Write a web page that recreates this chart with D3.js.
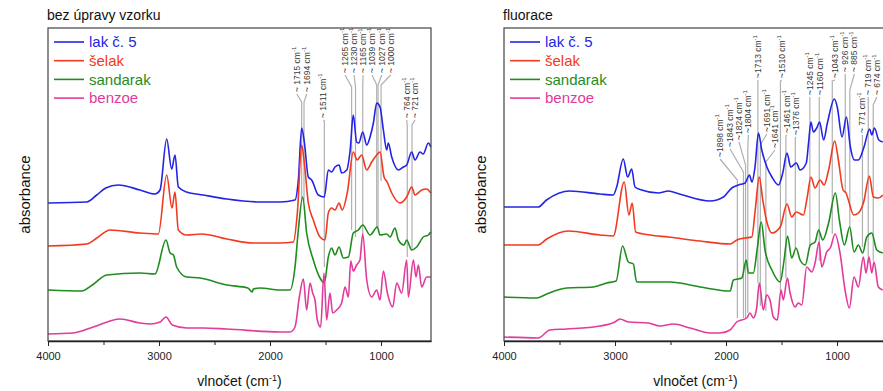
<!DOCTYPE html>
<html>
<head>
<meta charset="utf-8">
<script src="https://cdn.jsdelivr.net/npm/d3@7"></script>
<style>
  body { margin: 0; background: #fff; }
  svg { display: block; font-family: Arial, "Liberation Sans", sans-serif; }
</style>
</head>
<body>
<svg id="chart" width="883" height="391"></svg>
<script>
// legend / series
const seriesNames = ['lak č. 5', 'šelak', 'sandarak', 'benzoe'];
const seriesColors = ['#2424e6', '#f23a20', '#1e8c1e', '#e23b9b'];

// wavenumber ticks
const majorTicks = [4000, 3000, 2000, 1000];
const minorTicks = [3500, 2500, 1500];

// ---- panel 1: bez úpravy vzorku  ([wavenumber cm-1, absorbance a.u. incl. offset])
const bezLak = [[4000,13.8],[3651,13.9],[3561,14.6],[3480,15.3],[3367,15.6],[3171,15.1],[3036,14.7],[2991,15.1],[2931,20.2],[2886,17.2],[2856,18.6],[2826,15.4],[2751,14.9],[2601,14.6],[2390,14.2],[2090,13.9],[1910,13.9],[1775,14.1],[1745,16.1],[1715,21.3],[1691,19.9],[1655,16.4],[1625,16.1],[1565,14.6],[1511,14.4],[1475,17.1],[1445,16.9],[1415,17.4],[1378,17.6],[1355,16.8],[1309,17.1],[1279,19.0],[1250,22.6],[1220,19.9],[1200,19.8],[1165,20.9],[1129,19.6],[1099,20.4],[1069,21.8],[1039,23.8],[1009,23.4],[979,21.1],[949,19.1],[935,19.8],[904,18.4],[844,17.1],[799,17.4],[769,17.6],[724,18.9],[694,18.1],[649,18.9],[620,18.7],[574,19.8],[552,19.4]];
const bezSelak = [[4000,9.5],[3651,9.7],[3560,10.3],[3441,11.1],[3171,10.8],[3006,10.7],[2931,16.6],[2883,13.3],[2856,14.9],[2826,11.1],[2751,10.6],[2616,10.7],[2390,10.2],[2150,9.8],[1910,9.8],[1790,9.9],[1754,12.8],[1715,19.6],[1691,17.8],[1655,13.8],[1610,12.1],[1550,10.4],[1505,10.1],[1475,12.8],[1445,13.3],[1415,13.1],[1378,13.8],[1350,13.1],[1303,14.9],[1250,18.9],[1215,18.1],[1175,18.6],[1129,17.1],[1084,17.9],[1039,18.6],[1009,18.9],[973,16.4],[945,15.9],[904,14.8],[829,13.8],[769,14.4],[724,15.4],[694,14.6],[634,15.1],[590,15.2],[552,14.8]];
const bezSandarak = [[4000,5.1],[3696,5.0],[3600,5.6],[3471,6.6],[3171,6.8],[3036,6.7],[2937,10.1],[2900,8.8],[2870,8.6],[2841,7.4],[2751,6.4],[2631,6.3],[2390,5.6],[2200,5.3],[2160,4.9],[2150,5.2],[2090,5.3],[1910,5.1],[1820,5.1],[1775,7.4],[1745,11.1],[1706,14.4],[1670,10.8],[1610,8.1],[1550,6.3],[1511,5.8],[1475,8.4],[1445,9.3],[1415,8.6],[1378,9.4],[1340,8.3],[1294,8.4],[1250,10.8],[1205,11.1],[1165,11.6],[1099,10.6],[1033,11.4],[1010,10.6],[949,10.7],[919,10.4],[874,11.3],[844,10.1],[793,9.6],[769,10.1],[724,9.1],[679,9.4],[619,10.4],[574,10.6],[552,10.9]];
const bezBenzoe = [[4000,0.7],[3771,0.8],[3592,1.4],[3351,2.2],[3171,1.8],[3081,1.7],[2990,1.9],[2937,2.4],[2880,1.6],[2751,1.3],[2601,1.3],[2390,1.2],[1910,0.9],[1820,0.9],[1775,1.4],[1736,4.4],[1700,6.2],[1670,3.1],[1640,5.8],[1616,4.8],[1595,4.1],[1574,2.1],[1544,1.4],[1514,6.8],[1490,2.1],[1460,4.8],[1436,2.8],[1400,3.1],[1355,3.8],[1324,5.4],[1294,4.4],[1273,8.0],[1250,7.0],[1220,7.6],[1190,8.1],[1165,10.7],[1129,6.1],[1084,4.4],[1039,5.1],[1009,4.1],[979,7.0],[943,4.8],[895,3.4],[859,5.8],[814,4.8],[769,8.1],[754,4.4],[709,8.1],[685,6.4],[664,7.6],[634,5.4],[589,6.4],[552,6.4]];

// peak marks panel 1
const bezPeaks = [1715, 1694, 1511, 1265, 1230, 1165, 1039, 1027, 1000, 764, 721];
const bezPeakLabels = ['~ 1715', '~ 1694', '~ 1511', '~ 1265', '~ 1230', '~ 1165', '~ 1039', '~ 1027', '~ 1000', '~ 764', '~ 721'];
const bezLabelAt = [1759, 1669, 1520, 1324, 1243, 1162, 1081, 994, 913, 769, 694];
const bezLabelBase = [24.9, 24.9, 22.3, 26.8, 26.8, 26.8, 26.8, 26.8, 26.8, 22.3, 22.3];
const bezKink = [23.9, 23.9, 22.0, 25.4, 25.4, 25.4, 25.6, 25.6, 25.6, 21.6, 21.6];
const bezLineEnd = [14, 14, 7.4, 11.1, 10.4, 10.7, 11.4, 11.4, 16, 8.4, 9.1];

// ---- panel 2: fluorace
const fluLak = [[4000,13.4],[3693,13.4],[3617,14.1],[3407,15.0],[3136,14.7],[3016,14.6],[2985,15.4],[2926,18.2],[2886,16.4],[2850,17.2],[2820,15.4],[2760,15.1],[2610,14.8],[2520,15.0],[2420,14.7],[2143,14.0],[2023,14.4],[1948,15.3],[1888,15.6],[1828,15.8],[1789,16.6],[1767,15.9],[1739,17.4],[1708,20.8],[1678,19.1],[1632,17.4],[1587,16.4],[1527,15.6],[1489,16.8],[1451,18.8],[1417,17.4],[1367,17.8],[1333,17.1],[1277,17.8],[1256,19.9],[1235,21.9],[1214,20.9],[1183,21.3],[1157,21.9],[1121,20.1],[1087,21.8],[1024,24.2],[998,23.4],[955,20.4],[916,22.4],[880,19.4],[844,18.1],[808,18.1],[760,19.3],[706,21.2],[687,20.6],[663,21.3],[624,20.1],[588,19.9]];
const fluSelak = [[4000,9.6],[3693,9.6],[3615,10.2],[3422,11.0],[3136,10.6],[3016,10.5],[2917,15.9],[2875,12.6],[2845,13.8],[2814,10.9],[2685,10.6],[2520,10.4],[2234,10.0],[1963,9.7],[1903,10.1],[1828,10.3],[1768,10.4],[1737,13.1],[1701,16.4],[1669,14.1],[1632,11.9],[1587,10.8],[1512,11.4],[1451,13.7],[1408,12.4],[1367,12.9],[1303,12.6],[1270,14.3],[1235,16.4],[1198,15.3],[1153,16.1],[1117,15.6],[1076,17.1],[1021,20.0],[988,18.1],[946,15.1],[919,14.8],[898,14.1],[850,12.6],[808,12.8],[760,13.9],[709,16.5],[673,14.4],[628,14.3],[588,14.6]];
const fluSandarak = [[4000,4.4],[3708,4.3],[3615,4.7],[3437,5.3],[3195,5.4],[3076,5.8],[2990,6.0],[2932,9.5],[2880,7.9],[2835,7.7],[2805,5.9],[2685,5.9],[2505,5.9],[2234,5.4],[1963,5.0],[1933,6.1],[1858,6.3],[1818,8.1],[1799,6.8],[1754,6.8],[1717,9.4],[1683,11.9],[1649,9.1],[1587,7.1],[1512,5.9],[1477,8.1],[1446,10.5],[1408,8.3],[1369,9.3],[1333,8.1],[1286,7.6],[1241,9.6],[1198,9.9],[1166,11.1],[1129,10.1],[1076,11.8],[1015,14.8],[979,12.1],[934,9.6],[886,11.4],[847,8.9],[808,9.6],[769,8.8],[732,10.4],[687,10.8],[642,9.1],[588,8.8]];
const fluBenzoe = [[4000,0.4],[3693,0.3],[3586,1.1],[3435,1.2],[3136,1.5],[3001,1.9],[2956,2.2],[2880,1.9],[2700,1.8],[2595,1.5],[2475,1.7],[2324,1.3],[2143,0.8],[2054,0.8],[1964,1.1],[1904,1.9],[1814,2.3],[1784,2.8],[1754,2.3],[1724,3.3],[1700,5.8],[1664,3.1],[1634,4.6],[1604,4.1],[1574,2.4],[1538,2.1],[1505,5.1],[1484,4.1],[1448,6.3],[1423,4.8],[1378,3.4],[1349,3.8],[1318,3.6],[1273,7.4],[1228,6.9],[1198,7.8],[1162,9.9],[1138,7.4],[1093,8.9],[1057,9.4],[1018,10.7],[973,8.8],[928,5.1],[889,3.3],[847,6.4],[808,5.4],[763,8.4],[739,6.8],[712,8.4],[687,6.8],[667,7.9],[628,5.4],[588,5.1]];

// peak marks panel 2
const fluPeaks = [1898, 1843, 1824, 1804, 1713, 1691, 1641, 1510, 1461, 1376, 1245, 1160, 1043, 926, 885, 771, 719, 674];
const fluPeakLabels = ['~1898', '~1843', '~1824', '~1804', '~1713', '~1691', '~1641', '~1510', '~1461', '~1376', '~1245', '~1160', '~1043', '~ 926', '~ 885', '~ 771', '~ 719', '~ 674'];
const fluLabelAt = [2054, 1964, 1883, 1799, 1709, 1633, 1559, 1498, 1453, 1369, 1243, 1153, 1018, 928, 844, 777, 723, 642];
const fluLabelBase = [18.4, 19.4, 20.1, 20.8, 26.3, 20.9, 19.3, 26.3, 20.8, 20.6, 24.6, 24.6, 26.3, 26.9, 26.9, 20.8, 24.6, 24.6];
const fluKink = [16.1, 16.9, 17.6, 19.1, 26.0, 19.6, 17.9, 26.0, 20.5, 20.3, 24.3, 24.3, 26.0, 26.6, 25.1, 20.5, 24.3, 23.6];
const fluLineEnd = [2.3, 2.3, 2.3, 2.8, 5.8, 3.5, 3.0, 5.0, 6.3, 9.3, 9.6, 8.0, 10.7, 14.8, 11.4, 9.4, 7.8, 8.0];

const plotTop = 28, plotBottom = 341, plotWidth = 383;

const panels = [
  { title: 'bez úpravy vzorku', x0: 48, series: [bezLak, bezSelak, bezSandarak, bezBenzoe],
    peaks: bezPeaks, labels: bezPeakLabels, labelAt: bezLabelAt, labelBase: bezLabelBase, kink: bezKink, lineEnd: bezLineEnd },
  { title: 'fluorace', x0: 504, series: [fluLak, fluSelak, fluSandarak, fluBenzoe],
    peaks: fluPeaks, labels: fluPeakLabels, labelAt: fluLabelAt, labelBase: fluLabelBase, kink: fluKink, lineEnd: fluLineEnd }
];

const svg = d3.select('#chart');

const y = d3.scaleLinear().domain([0, 31.3]).range([plotBottom, plotTop]);

panels.forEach(p => {
  const x = d3.scaleLinear().domain([4000, 550]).range([p.x0, p.x0 + plotWidth]);
  const g = svg.append('g');

  // title
  g.append('text')
    .attr('x', p.x0 - 1).attr('y', 20)
    .style('font-size', '14px').attr('fill', '#111')
    .text(p.title);

  // peak lines (under the spectra)
  const marks = g.append('g').attr('class', 'marks');
  p.peaks.forEach((wn, i) => {
    const lx = x(p.labelAt[i]);
    const ly = y(p.labelBase[i]) + 2;
    const px = x(wn);
    const pts = [[lx, ly], [px, y(p.kink[i])], [px, y(p.lineEnd[i])]];
    marks.append('path')
      .attr('d', d3.line()(pts))
      .attr('fill', 'none')
      .attr('stroke', '#b0b0b0')
      .attr('stroke-width', 1.2);
  });

  // spectra
  const line = d3.line()
    .x(d => x(d[0]))
    .y(d => y(d[1]))
    .curve(d3.curveMonotoneX);

  p.series.forEach((s, i) => {
    g.append('path')
      .datum(s)
      .attr('d', line)
      .attr('fill', 'none')
      .attr('stroke', seriesColors[i])
      .attr('stroke-width', 1.6)
      .attr('stroke-linejoin', 'round');
  });

  // peak labels, rotated
  p.peaks.forEach((wn, i) => {
    const lx = x(p.labelAt[i]);
    const ly = y(p.labelBase[i]);
    const t = g.append('text')
      .attr('transform', `translate(${lx},${ly}) rotate(-90)`)
      .attr('dominant-baseline', 'central')
      .style('font-size', '8.5px')
      .attr('fill', '#3a3a3a');
    t.append('tspan').text(p.labels[i] + ' cm');
    t.append('tspan').attr('dy', -3).style('font-size', '6px').text('-1');
  });

  // frame
  g.append('rect')
    .attr('x', p.x0).attr('y', plotTop)
    .attr('width', plotWidth).attr('height', plotBottom - plotTop)
    .attr('fill', 'none').attr('stroke', '#444').attr('stroke-width', 1.2);

  // x axis
  const ax = g.append('g')
    .attr('transform', `translate(0,${plotBottom})`)
    .call(d3.axisBottom(x).tickValues(majorTicks).tickSize(5).tickSizeOuter(0).tickPadding(6).tickFormat(d3.format('d')));
  ax.select('.domain').attr('stroke', '#222').attr('stroke-width', 1.4);
  ax.selectAll('.tick line').attr('stroke', '#222');
  ax.selectAll('text').style('font-size', '11px').style('font-family', 'Arial, "Liberation Sans", sans-serif').attr('fill', '#222');

  g.append('g')
    .attr('transform', `translate(0,${plotBottom})`)
    .call(d3.axisBottom(x).tickValues(minorTicks).tickSize(4).tickSizeOuter(0).tickFormat(''))
    .call(a => a.select('.domain').remove())
    .selectAll('.tick line').attr('stroke', '#222');

  // axis titles
  const xt = g.append('text')
    .attr('x', p.x0 + plotWidth / 2).attr('y', 386)
    .attr('text-anchor', 'middle')
    .style('font-size', '14px').attr('fill', '#111');
  xt.append('tspan').text('vlnočet (cm');
  xt.append('tspan').attr('dy', -5).style('font-size', '9px').text('-1');
  xt.append('tspan').attr('dy', 5).text(')');

  g.append('text')
    .attr('transform', `translate(${p.x0 - 18},${(plotTop + plotBottom) / 2 + 10}) rotate(-90)`)
    .attr('text-anchor', 'middle')
    .style('font-size', '15px').attr('fill', '#111')
    .text('absorbance');

  // legend
  const leg = g.append('g');
  seriesNames.forEach((name, i) => {
    const ry = plotTop + 14 + i * 18.7;
    leg.append('line')
      .attr('x1', p.x0 + 6).attr('x2', p.x0 + 36)
      .attr('y1', ry).attr('y2', ry)
      .attr('stroke', seriesColors[i]).attr('stroke-width', 1.6);
    leg.append('text')
      .attr('x', p.x0 + 41).attr('y', ry)
      .attr('dy', '0.35em')
      .style('font-size', '15px')
      .attr('fill', seriesColors[i])
      .text(name);
  });
});
</script>
</body>
</html>
